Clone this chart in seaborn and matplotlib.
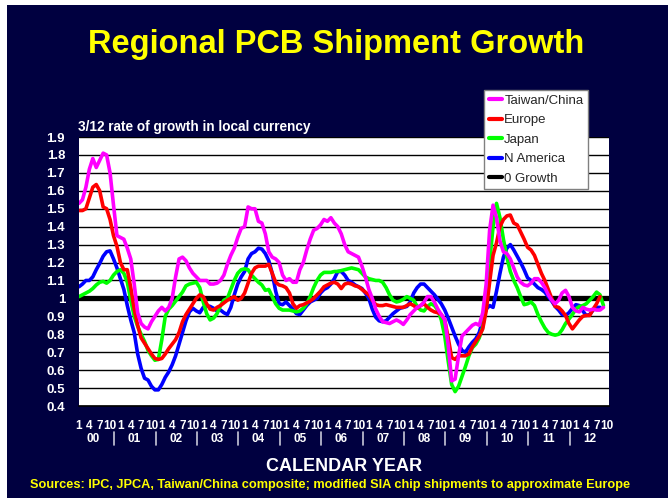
import numpy as np
import pandas as pd
import matplotlib
matplotlib.use("Agg")
import matplotlib.pyplot as plt
import matplotlib.font_manager as fm
from matplotlib.patches import Rectangle
from matplotlib.lines import Line2D
import seaborn as sns

# monthly values, Jan 2000 .. Sep 2012 (3/12 growth ratio)
taiwan_china = [
    1.53, 1.55, 1.62, 1.72, 1.78, 1.73, 1.77, 1.81, 1.80, 1.70, 1.52, 1.35,
    1.34, 1.33, 1.28, 1.22, 1.08, 0.92, 0.86, 0.84, 0.83, 0.87, 0.90, 0.93,
    0.95, 0.93, 0.95, 1.00, 1.12, 1.22, 1.23, 1.21, 1.17, 1.14, 1.12, 1.10,
    1.10, 1.10, 1.08, 1.08, 1.085, 1.10, 1.13, 1.19, 1.24, 1.28, 1.34, 1.39,
    1.40, 1.51, 1.50, 1.50, 1.43, 1.42, 1.36, 1.26, 1.23, 1.22, 1.20, 1.13,
    1.10, 1.11, 1.09, 1.09, 1.16, 1.20, 1.27, 1.33, 1.38, 1.39, 1.41, 1.44,
    1.43, 1.45, 1.42, 1.40, 1.36, 1.30, 1.26, 1.25, 1.24, 1.23, 1.18, 1.12,
    1.05, 1.00, 0.94, 0.90, 0.87, 0.865, 0.86, 0.87, 0.88, 0.87, 0.855, 0.88,
    0.91, 0.93, 0.95, 0.96, 0.98, 1.01, 1.01, 0.98, 0.94, 0.91, 0.88, 0.74,
    0.54, 0.55, 0.68, 0.79, 0.81, 0.83, 0.85, 0.86, 0.85, 0.92, 1.08, 1.38,
    1.52, 1.45, 1.32, 1.26, 1.25, 1.22, 1.17, 1.12, 1.09, 1.075, 1.07, 1.085,
    1.11, 1.11, 1.09, 1.06, 1.02, 0.99, 0.97, 0.99, 1.03, 1.045, 1.01, 0.95,
    0.93, 0.925, 0.95, 0.94, 0.935, 0.94, 0.935, 0.935, 0.95,
]
europe = [
    1.49, 1.49, 1.50, 1.56, 1.62, 1.635, 1.60, 1.51, 1.50, 1.44, 1.35, 1.29,
    1.20, 1.16, 1.16, 1.06, 0.94, 0.85, 0.78, 0.75, 0.72, 0.69, 0.665, 0.66,
    0.665, 0.69, 0.72, 0.745, 0.77, 0.81, 0.87, 0.91, 0.94, 0.97, 1.00, 1.02,
    1.01, 0.97, 0.94, 0.935, 0.95, 0.96, 0.975, 0.99, 1.00, 1.01, 0.99, 1.00,
    1.03, 1.085, 1.14, 1.17, 1.18, 1.18, 1.18, 1.19, 1.14, 1.09, 1.075, 1.07,
    1.06, 1.03, 0.97, 0.945, 0.96, 0.965, 0.975, 0.985, 1.00, 1.02, 1.04, 1.065,
    1.075, 1.085, 1.09, 1.08, 1.055, 1.08, 1.085, 1.08, 1.07, 1.065, 1.05, 1.035,
    1.02, 0.99, 0.965, 0.96, 0.96, 0.965, 0.96, 0.955, 0.95, 0.95, 0.95, 0.96,
    0.97, 0.96, 0.945, 0.96, 0.97, 0.95, 0.935, 0.925, 0.92, 0.91, 0.88, 0.78,
    0.67, 0.66, 0.68, 0.68, 0.68, 0.69, 0.73, 0.76, 0.79, 0.83, 0.93, 1.09,
    1.24, 1.31, 1.40, 1.44, 1.46, 1.465, 1.42, 1.41, 1.37, 1.33, 1.285, 1.27,
    1.24, 1.19, 1.14, 1.10, 1.05, 1.00, 0.955, 0.95, 0.93, 0.905, 0.86, 0.83,
    0.855, 0.88, 0.90, 0.905, 0.905, 0.94, 0.97, 1.01, np.nan,
]
japan = [
    1.01, 1.02, 1.03, 1.04, 1.055, 1.075, 1.09, 1.095, 1.085, 1.10, 1.13, 1.15,
    1.16, 1.14, 1.09, 0.99, 0.90, 0.845, 0.80, 0.76, 0.71, 0.68, 0.655, 0.66,
    0.77, 0.90, 0.94, 0.96, 0.985, 1.01, 1.035, 1.07, 1.08, 1.085, 1.09, 1.06,
    0.98, 0.915, 0.88, 0.89, 0.915, 0.96, 0.99, 1.00, 1.05, 1.10, 1.14, 1.16,
    1.165, 1.16, 1.13, 1.11, 1.09, 1.075, 1.045, 1.05, 1.01, 0.97, 0.945, 0.935,
    0.935, 0.935, 0.93, 0.925, 0.93, 0.945, 0.97, 1.01, 1.06, 1.10, 1.13, 1.145,
    1.145, 1.145, 1.15, 1.15, 1.155, 1.16, 1.165, 1.17, 1.165, 1.16, 1.14, 1.12,
    1.11, 1.105, 1.10, 1.10, 1.09, 1.06, 1.02, 0.99, 0.98, 0.985, 0.995, 1.01,
    1.00, 0.99, 0.955, 0.935, 0.93, 0.955, 0.97, 0.96, 0.935, 0.88, 0.79, 0.65,
    0.52, 0.48, 0.51, 0.565, 0.62, 0.68, 0.725, 0.745, 0.78, 0.84, 0.96, 1.20,
    1.40, 1.53, 1.45, 1.33, 1.23, 1.15, 1.10, 1.06, 1.01, 0.965, 0.97, 0.98,
    0.96, 0.91, 0.87, 0.835, 0.81, 0.80, 0.795, 0.80, 0.825, 0.86, 0.885, 0.91,
    0.94, 0.955, 0.96, 0.97, 0.99, 1.01, 1.035, 1.02, 0.96,
]
n_america = [
    1.065, 1.08, 1.10, 1.10, 1.12, 1.16, 1.195, 1.235, 1.26, 1.265, 1.22, 1.17,
    1.11, 1.05, 0.96, 0.88, 0.81, 0.69, 0.61, 0.555, 0.545, 0.51, 0.49, 0.49,
    0.52, 0.56, 0.59, 0.63, 0.68, 0.745, 0.81, 0.875, 0.925, 0.945, 0.93, 0.92,
    0.95, 0.96, 0.955, 0.945, 0.93, 0.935, 0.92, 0.91, 0.95, 1.02, 1.08, 1.12,
    1.15, 1.22, 1.25, 1.26, 1.28, 1.275, 1.25, 1.21, 1.14, 1.04, 0.97, 0.965,
    0.98, 0.96, 0.94, 0.915, 0.91, 0.935, 0.96, 0.98, 0.99, 1.00, 1.03, 1.05,
    1.06, 1.08, 1.11, 1.15, 1.15, 1.13, 1.10, 1.09, 1.075, 1.065, 1.055, 1.03,
    1.00, 0.94, 0.895, 0.875, 0.87, 0.875, 0.895, 0.915, 0.93, 0.945, 0.95, 0.955,
    0.98, 1.03, 1.06, 1.08, 1.08, 1.06, 1.04, 1.02, 0.995, 0.97, 0.935, 0.89,
    0.84, 0.79, 0.745, 0.71, 0.70, 0.73, 0.755, 0.775, 0.81, 0.88, 0.94, 0.96,
    0.95, 1.04, 1.14, 1.23, 1.28, 1.30, 1.27, 1.235, 1.20, 1.16, 1.115, 1.10,
    1.08, 1.06, 1.05, 1.035, 1.01, 0.985, 0.955, 0.935, 0.91, 0.905, 0.92, 0.945,
    0.965, 0.96, 0.93, 0.905, 0.91, 0.935, 0.95, 0.95, np.nan,
]
region_names = ["Taiwan/China", "Europe", "Japan", "N America"]
region_colors = ["#FF00FF", "#FF0000", "#00FF00", "#0000FF"]
years = ["00", "01", "02", "03", "04", "05", "06", "07", "08", "09", "10", "11", "12"]
quarter_labels = ["1", "4", "7", "10"]
y_ticks = [0.4, 0.5, 0.6, 0.7, 0.8, 0.9, 1.0, 1.1, 1.2, 1.3, 1.4, 1.5, 1.6, 1.7, 1.8, 1.9]

navy = "#000040"
months = np.arange(len(taiwan_china))

df = pd.DataFrame({
    "month": np.tile(months, 4),
    "rate": np.concatenate([taiwan_china, europe, japan, n_america]),
    "region": np.repeat(region_names, len(months)),
})

sns.set_style("white")
names = {f.name for f in fm.fontManager.ttflist}
plt.rcParams["font.family"] = ["Liberation Sans", "DejaVu Sans"]
title_font = "Liberation Sans Narrow" if "Liberation Sans Narrow" in names else "Liberation Sans"
title_size = 28 if title_font == "Liberation Sans Narrow" else 23.5

fig = plt.figure(figsize=(6.68, 4.98), dpi=100, facecolor="white")
bg = Rectangle((7 / 668, 0), 1, 1 - 5 / 498, transform=fig.transFigure,
               facecolor=navy, edgecolor="none", zorder=-10)
fig.add_artist(bg)

ax = fig.add_axes([79 / 668, 1 - 406 / 498, 530 / 668, 269 / 498])
ax.set_zorder(1)
ax.set_facecolor("white")

# horizontal grid
for v in y_ticks:
    ax.axhline(v, color="black", lw=1.0, zorder=1)
ax.axhline(1.0, color="black", lw=3.8, zorder=2)

draw_order = ["N America", "Japan", "Europe", "Taiwan/China"]
palette = dict(zip(region_names, region_colors))
sns.lineplot(data=df, x="month", y="rate", hue="region", hue_order=draw_order,
             palette=palette, linewidth=2.6, estimator=None, legend=False, ax=ax, zorder=3)

ax.set_xlim(0, 153.6)
ax.set_ylim(0.4, 1.9)
ax.set_xlabel("")
ax.set_ylabel("")
for s in ["top", "right", "left"]:
    ax.spines[s].set_visible(False)
ax.spines["bottom"].set_color("black")
ax.spines["bottom"].set_linewidth(1.2)

ax.set_yticks(y_ticks)
ax.set_yticklabels([f"{v:g}" for v in y_ticks], color="white", fontsize=9.5, fontweight="bold")
ax.tick_params(axis="y", length=0, pad=10)

q_pos = np.arange(0, len(years) * 12, 3)
ax.set_xticks(q_pos)
ax.set_xticklabels([quarter_labels[i % 4] for i in range(len(q_pos))],
                   color="white", fontsize=8.5, fontweight="bold")
ax.set_xticks(months, minor=True)
ax.tick_params(axis="x", which="major", direction="inout", length=12, width=1,
               color="black", pad=4)
ax.tick_params(axis="x", which="minor", direction="in", length=4, width=0.8, color="black")

xt = ax.get_xaxis_transform()
for i, yr in enumerate(years):
    ax.text(i * 12 + 4, -0.122, yr, transform=xt, ha="center", va="center",
            color="white", fontsize=8.5, fontweight="bold", clip_on=False)
    if i < len(years) - 1:
        ax.plot([i * 12 + 10.2] * 2, [-0.097, -0.146], transform=xt, color="#C8C8D8",
                lw=1.2, clip_on=False)

fig.text(336 / 668, 1 - 44 / 498, "Regional PCB Shipment Growth", ha="center", va="center",
         color="#FFFF00", fontsize=title_size, fontweight="bold", family=title_font)
fig.text(78 / 668, 1 - 127 / 498, "3/12 rate of growth in local currency", ha="left",
         va="center", color="white", fontsize=9.8, fontweight="bold")
fig.text(344 / 668, 1 - 466 / 498, "CALENDAR YEAR", ha="center", va="center",
         color="white", fontsize=13, fontweight="bold")
fig.text(330 / 668, 1 - 485 / 498,
         "Sources: IPC, JPCA, Taiwan/China composite; modified SIA chip shipments to approximate Europe",
         ha="center", va="center", color="#FFFF00", fontsize=9.2, fontweight="bold")

handles = [Line2D([], [], color=c, lw=3) for c in region_colors]
handles.append(Line2D([], [], color="black", lw=3))
leg = fig.legend(handles, region_names + ["0 Growth"], loc="upper right",
                 bbox_to_anchor=(588 / 668, 1 - 90 / 498), bbox_transform=fig.transFigure,
                 frameon=True, fancybox=False, framealpha=1, edgecolor="#808080",
                 fontsize=9.5, handlelength=1.0, handletextpad=0.15, labelspacing=0.55,
                 borderpad=0.35, borderaxespad=0)
leg.get_frame().set_linewidth(1.0)
leg.set_zorder(5)

fig.savefig("out.png", dpi=100, facecolor=fig.get_facecolor())
